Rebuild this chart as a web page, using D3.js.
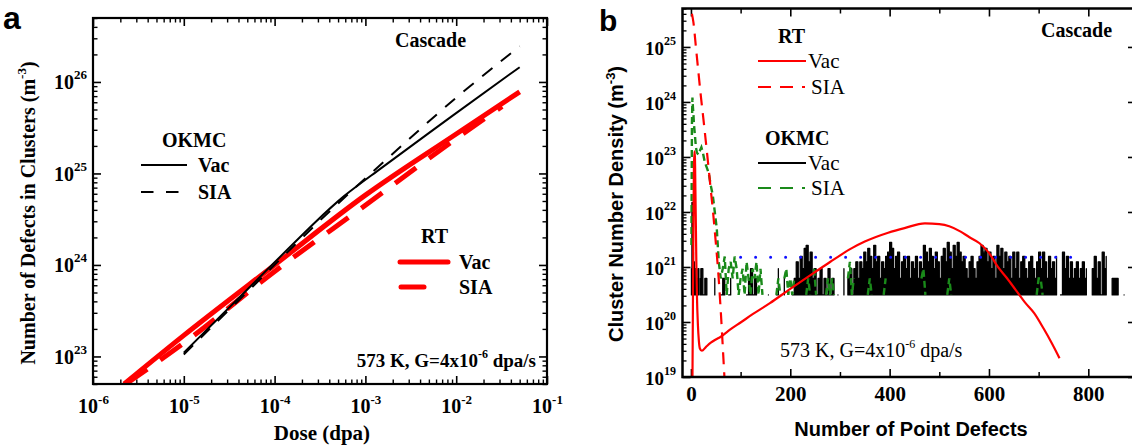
<!DOCTYPE html>
<html><head><meta charset="utf-8">
<script src="https://cdn.jsdelivr.net/npm/d3@7"></script>
<style>body{margin:0;background:#fff}svg{display:block}</style>
</head><body>
<svg id="c" width="1132" height="447"></svg>
<script>
// ---------------- Panel a data (dose in dpa, density in m^-3) ----------------
const rtVacDose  = [2.2e-6, 1e-5, 1e-4, 1e-3, 1e-2, 5e-2];
const rtVacA     = [5e22, 1.7e23, 1.0e24, 5.8e24, 2.7e25, 7.8e25];
const rtSiaDose  = [2.3e-6, 1e-5, 1e-4, 1e-3, 1e-2, 3.2e-2];
const rtSiaA     = [5e22, 1.4e23, 8.5e23, 4.5e24, 2.4e25, 5.4e25];
const okVacDose  = [1e-5, 1e-4, 3e-4, 6e-4, 1e-3, 1e-2, 5e-2];
const okVacA     = [1.1e23, 1.07e24, 3.16e24, 5.9e24, 8.5e24, 4.6e25, 1.45e26];
const okSiaDose  = [1e-5, 1e-4, 3e-4, 1e-3, 3e-3, 1e-2, 5e-2];
const okSiaA     = [1.05e23, 1.0e24, 2.95e24, 8.9e24, 2.35e25, 6.9e25, 2.45e26];
const xTicksA = [1e-6, 1e-5, 1e-4, 1e-3, 1e-2, 1e-1];
const yTicksA = [1e23, 1e24, 1e25, 1e26];

// ---------------- Panel b data (cluster size, density in m^-3) ----------------
const rtVacSize = [3,4,5,6,7,8,9,10,11,12,14,16,18,22,30,40,50,60,80,100,125,159,200,250,280,324,350,397,430,471,500,520,543,560,581,600,618,636,654,672,691,710,726,742];
const rtVacB = [7.9e18,2e20,6.3e21,6.3e22,1.26e23,1e23,2.5e22,5e21,1e21,3.2e20,8.9e19,4.5e19,3.3e19,3.0e19,3.5e19,4.2e19,4.8e19,5.4e19,7.4e19,9.8e19,1.4e20,2.2e20,4e20,8.1e20,1.23e21,2.2e21,2.9e21,4.2e21,5.1e21,6.2e21,6.0e21,5.5e21,4.4e21,3.5e21,2.7e21,1.8e21,1e21,6.3e20,3.8e20,2.3e20,1.45e20,7.6e19,4.2e19,2.2e19];
const rtSiaSize = [2,5,10,15,20,25,30,35,40,45,50,55,60,65,68];
const rtSiaB = [4e25,2.8e25,1e25,3.5e24,1.26e24,5e23,1.9e23,7e22,2.5e22,8.9e21,2.8e21,7.9e20,1.6e20,2.5e19,7.9e18];
// OKMC: density of a single cluster in the simulation box, and cluster counts
const oneCluster = 3.1e20;
const okVacHead = [3,48,20,6,3,4,1,3,2,1,3,1,2,1,3,1,0,0,2];          // sizes 1..19
const okVacTailStart = 20, okVacTailStep = 4;                            // sizes 20,24,...
const okVacTail = [3,1,2,1,0,0,0,2, 0,0,1,2,1,0,1,2,0,0,0,0,0,
 0,0,1,2,3,1,2,1,0,0,0,0,0,1,0,0,0,1,3,0,0,2,0,0,0,
 1,2,4,2,5,3,7,8,4,6,2,3,1,2,3,1,2,1,3,1,2,1,0,1,0,
 0,3,0,2,3,1,3,4,
 2,4,3,6,4,7,5,3,8,4,5,2,4,3,5,6,9,7,3,5,6,2,4,5,3,5,2,4,3,5,2,4,3,8,6,4,7,5,3,6,4,2,5,7,4,9,6,3,8,5,9,6,4,5,3,2,4,5,3,2,4,5,8,6,7,4,6,
 3,5,2,8,5,7,3,6,4,5,2,6,3,6,2,4,5,3,2,4,5,3,2,4,6,3,6,4,2,5,
 3,4,2,5,0,1,6,3,5,2,
 4,2,3,4,2,3,4,2,3,0,
 0,3,5,2,4,1,6,3,5,0,0,2,2,2,2,0,0,1];
const okSiaHeadSize = [1,2,3,4,5,6,8,10,12,15,18,21,24,28,33,36,40,44,48,52];
const okSiaHeadB = [2.5e21,4e23,1.2e24,8e23,6e23,4e23,2.5e23,1.5e23,1.2e23,1.1e23,1.3e23,1.5e23,1.2e23,8e22,6e22,5e22,3e22,2e22,1e22,5e21];
const okSiaTailStart = 56, okSiaTailStep = 4;
const okSiaTail = [4,2,3,5,1,3,4,2,5,3,1,2,3,1,4,2,1,3,2,4,1,3,1,
 0,0,0,0,0,0,
 1,2,1,0,2,3,1,2,1,2,
 0,0,0,0,0,
 1,2,1,0,3,1,
 0,0,0,0,1,2,1,2,1,
 0,0,0,0,0,0,
 2,4,1,2,
 0,0,0,0,0,0,
 1,2,1,
 0,0,0,0,0,
 1,2,
 0,0,0,0,0,0,0,0,0,0,0,0,0,0,0,0,0,
 2,3,1,
 0,0,0,0,0,0,0,0,0,0,
 1,2,1,
 0,0,0,0,0,0,0,0,0,0,0,0,0,0,0,0,0,0,0,0,0,0,0,0,0,0,0,0,0,0,0,0,0,0,0,0,0,0,0,0,0,0,
 1,2,2,1];
const refSize = [100, 785];
const refB = [1.5e21, 1.5e21];
const xTicksB = [0, 200, 400, 600, 800];
const xMinorB = [100, 300, 500, 700];
const yTicksB = [1e19, 1e20, 1e21, 1e22, 1e23, 1e24, 1e25];

// ---------------- drawing ----------------
const serif = "'Liberation Serif','Times New Roman',serif";
const sans = "'Liberation Sans',Arial,sans-serif";
const svg = d3.select('#c');
const defs = svg.append('defs');

function logMinor(lo, hi) {
  const out = [];
  for (let e = Math.floor(Math.log10(lo)); e <= Math.ceil(Math.log10(hi)); e++)
    for (let m = 2; m <= 9; m++) { const v = m * Math.pow(10, e); if (v >= lo * 0.999 && v <= hi * 1.001) out.push(v); }
  return out;
}
function tickOnly(g, gen, values, size, w) {
  g.call(gen.tickValues(values).tickSize(-size).tickFormat(''));
  g.select('.domain').remove();
  g.selectAll('.tick text').remove();
  g.selectAll('.tick line').attr('stroke', '#000').attr('stroke-width', w);
}
function powLabels(g, opts) {
  g.selectAll('.tick text').each(function(d) {
    const t = d3.select(this).text(null)
      .attr('font-family', serif).attr('font-weight', 'bold').attr('font-size', opts.size).attr('fill', '#000');
    if (opts.x !== undefined) t.attr('x', opts.x);
    if (opts.y !== undefined) t.attr('y', opts.y);
    t.attr('dy', opts.dy);
    t.append('tspan').text('10');
    t.append('tspan').attr('dy', opts.supDy).attr('font-size', opts.supSize).text(Math.round(Math.log10(d)));
  });
}
function txt(x, y, s, o = {}) {
  return svg.append('text').attr('x', x).attr('y', y)
    .attr('font-family', o.fam || serif).attr('font-weight', o.w || 'bold')
    .attr('font-size', o.size || 20).attr('text-anchor', o.anchor || 'start').attr('fill', '#000').text(s);
}

// ===== Panel a =====
const A = {l: 93, r: 547, t: 18, b: 384};
const xA = d3.scaleLog().domain([1e-6, 1e-1]).range([A.l, A.r]);
const yA = d3.scaleLog().domain([5e22, 5e26]).range([A.b, A.t]);
defs.append('clipPath').attr('id', 'clipA').append('rect')
  .attr('x', A.l).attr('y', A.t).attr('width', A.r - A.l).attr('height', A.b - A.t);

const gA = svg.append('g');
const xMinA = logMinor(1e-6, 1e-1), yMinA = logMinor(5e22, 5e26);
const gAb = gA.append('g').attr('transform', `translate(0,${A.b})`);
gAb.call(d3.axisBottom(xA).tickValues(xTicksA).tickSize(-8).tickFormat(() => ''));
gAb.select('.domain').remove();
gAb.selectAll('.tick line').attr('stroke-width', 1.6);
powLabels(gAb, {y: 29, dy: null, size: 20, supDy: -9, supSize: 13});
tickOnly(gA.append('g').attr('transform', `translate(0,${A.b})`), d3.axisBottom(xA), xMinA, 4.5, 1.4);
tickOnly(gA.append('g').attr('transform', `translate(0,${A.t})`), d3.axisTop(xA), xTicksA, 8, 1.6);
tickOnly(gA.append('g').attr('transform', `translate(0,${A.t})`), d3.axisTop(xA), xMinA, 4.5, 1.4);
const gAl = gA.append('g').attr('transform', `translate(${A.l},0)`);
gAl.call(d3.axisLeft(yA).tickValues(yTicksA).tickSize(-8).tickPadding(6).tickFormat(() => ''));
gAl.select('.domain').remove();
gAl.selectAll('.tick line').attr('stroke-width', 1.6);
powLabels(gAl, {dy: '0.35em', size: 20, supDy: -10, supSize: 13});
tickOnly(gA.append('g').attr('transform', `translate(${A.l},0)`), d3.axisLeft(yA), yMinA, 4.5, 1.4);
tickOnly(gA.append('g').attr('transform', `translate(${A.r},0)`), d3.axisRight(yA), yTicksA, 8, 1.6);
tickOnly(gA.append('g').attr('transform', `translate(${A.r},0)`), d3.axisRight(yA), yMinA, 4.5, 1.4);

const lineA = d3.line().x(d => xA(d[0])).y(d => yA(d[1])).curve(d3.curveMonotoneX);
const lineA2 = d3.line().x(d => xA(d[0])).y(d => yA(d[1])).curve(d3.curveBasis);
const cA = gA.append('g').attr('clip-path', 'url(#clipA)');
cA.append('path').attr('d', lineA(d3.zip(rtSiaDose, rtSiaA))).attr('fill', 'none')
  .attr('stroke', '#ff0000').attr('stroke-width', 5).attr('stroke-dasharray', '26,16');
cA.append('path').attr('d', lineA(d3.zip(rtVacDose, rtVacA))).attr('fill', 'none')
  .attr('stroke', '#ff0000').attr('stroke-width', 5);
cA.append('path').attr('d', lineA2(d3.zip(okSiaDose, okSiaA))).attr('fill', 'none')
  .attr('stroke', '#000').attr('stroke-width', 2).attr('stroke-dasharray', '13,11');
cA.append('path').attr('d', lineA2(d3.zip(okVacDose, okVacA))).attr('fill', 'none')
  .attr('stroke', '#000').attr('stroke-width', 2);

gA.append('rect').attr('x', A.l).attr('y', A.t).attr('width', A.r - A.l).attr('height', A.b - A.t)
  .attr('fill', 'none').attr('stroke', '#000').attr('stroke-width', 2.2);

txt(3, 29, 'a', {fam: sans, size: 32});
txt(395, 47, 'Cascade');
{
  const t = txt(536, 367, '573 K, G=4x10', {anchor: 'end', size: 19});
  t.append('tspan').attr('dy', -9).attr('font-size', 12).text('-6');
  t.append('tspan').attr('dy', 9).text(' dpa/s');
}
txt(162, 147, 'OKMC');
svg.append('line').attr('x1', 141).attr('x2', 187).attr('y1', 165).attr('y2', 165).attr('stroke', '#000').attr('stroke-width', 2);
txt(198, 172, 'Vac');
svg.append('line').attr('x1', 141).attr('x2', 179).attr('y1', 192).attr('y2', 192).attr('stroke', '#000').attr('stroke-width', 2).attr('stroke-dasharray', '12.5,12.5');
txt(198, 199, 'SIA');
txt(421, 243, 'RT');
svg.append('line').attr('x1', 400).attr('x2', 448).attr('y1', 262).attr('y2', 262).attr('stroke', '#ff0000').attr('stroke-width', 5).attr('stroke-linecap', 'round');
txt(459, 269, 'Vac');
svg.append('line').attr('x1', 401).attr('x2', 424).attr('y1', 287).attr('y2', 287).attr('stroke', '#ff0000').attr('stroke-width', 5).attr('stroke-linecap', 'round');
txt(459, 294, 'SIA');
{
  const t = txt(0, 0, 'Number of Defects in Clusters (m', {anchor: 'middle', size: 20})
    .attr('x', null).attr('y', null).attr('transform', 'translate(35,213) rotate(-90)');
  t.append('tspan').attr('dy', -9).attr('font-size', 13).text('-3');
  t.append('tspan').attr('dy', 9).text(')');
}
txt(322, 440, 'Dose (dpa)', {anchor: 'middle', size: 21});

// ===== Panel b =====
const B = {l: 682.5, r: 1136, t: 8.5, b: 377};
const xB = d3.scaleLinear().domain([-17, 896]).range([B.l, B.r]);
const yB = d3.scaleLog().domain([1e19, 5e25]).range([B.b, B.t]);
defs.append('clipPath').attr('id', 'clipB').append('rect')
  .attr('x', B.l).attr('y', B.t).attr('width', B.r - B.l).attr('height', B.b - B.t);
const gB = svg.append('g');
const yMinB = logMinor(1e19, 5e25);

const gBb = gB.append('g').attr('transform', `translate(0,${B.b})`);
gBb.call(d3.axisBottom(xB).tickValues(xTicksB).tickSize(-8).tickFormat(d3.format('d')));
gBb.select('.domain').remove();
gBb.selectAll('.tick line').attr('stroke-width', 1.6);
gBb.selectAll('.tick text').attr('y', 24).attr('dy', null).attr('font-family', serif)
  .attr('font-weight', 'bold').attr('font-size', 21).attr('fill', '#000');
tickOnly(gB.append('g').attr('transform', `translate(0,${B.b})`), d3.axisBottom(xB), xMinorB, 5, 1.5);
tickOnly(gB.append('g').attr('transform', `translate(0,${B.t})`), d3.axisTop(xB), xTicksB, 8, 1.6);
tickOnly(gB.append('g').attr('transform', `translate(0,${B.t})`), d3.axisTop(xB), xMinorB, 5, 1.5);
const gBl = gB.append('g').attr('transform', `translate(${B.l},0)`);
gBl.call(d3.axisLeft(yB).tickValues(yTicksB).tickSize(-8).tickPadding(6.5).tickFormat(() => ''));
gBl.select('.domain').remove();
gBl.selectAll('.tick line').attr('stroke-width', 1.6);
powLabels(gBl, {dy: '0.4em', size: 19, supDy: -10, supSize: 12});
tickOnly(gB.append('g').attr('transform', `translate(${B.l},0)`), d3.axisLeft(yB), yMinB, 4, 1.3);
tickOnly(gB.append('g').attr('transform', `translate(${B.r},0)`), d3.axisRight(yB), yTicksB, 8, 1.6);

const cB = gB.append('g').attr('clip-path', 'url(#clipB)');
const lineB = d3.line().defined(d => d[1] > 0).x(d => xB(d[0])).y(d => yB(d[1]));
const okVacPts = okVacHead.map((c, i) => [i + 1, c * oneCluster])
  .concat(okVacTail.map((c, i) => [okVacTailStart + i * okVacTailStep, c * oneCluster]));
const areaB = d3.area().defined(d => d[1] > 0).x(d => xB(d[0]))
  .y0(yB(oneCluster)).y1(d => yB(d[1])).curve(d3.curveStepAfter);
cB.append('path').attr('d', areaB(okVacPts)).attr('fill', '#000')
  .attr('stroke', '#000').attr('stroke-width', 1.3).attr('stroke-linejoin', 'round').attr('stroke-linecap', 'round');
const okSiaPts = d3.zip(okSiaHeadSize, okSiaHeadB)
  .concat(okSiaTail.map((c, i) => [okSiaTailStart + i * okSiaTailStep, c * oneCluster]));
cB.append('path').attr('d', lineB.curve(d3.curveLinear)(okSiaPts)).attr('fill', 'none')
  .attr('stroke', '#1a8a1a').attr('stroke-width', 2.4).attr('stroke-dasharray', '7,4');
cB.append('path').attr('d', lineB.curve(d3.curveMonotoneX)(d3.zip(rtSiaSize, rtSiaB))).attr('fill', 'none')
  .attr('stroke', '#ff0000').attr('stroke-width', 2.2).attr('stroke-dasharray', '12,8');
cB.append('path').attr('d', lineB.curve(d3.curveLinear)(d3.zip(refSize, refB))).attr('fill', 'none')
  .attr('stroke', '#1010ff').attr('stroke-width', 3).attr('stroke-linecap', 'round').attr('stroke-dasharray', '0,15');
cB.append('path').attr('d', lineB.curve(d3.curveMonotoneX)(d3.zip(rtVacSize, rtVacB))).attr('fill', 'none')
  .attr('stroke', '#ff0000').attr('stroke-width', 2.2);

gB.append('rect').attr('x', B.l).attr('y', B.t).attr('width', B.r - B.l).attr('height', B.b - B.t)
  .attr('fill', 'none').attr('stroke', '#000').attr('stroke-width', 2.5);

txt(599, 31, 'b', {fam: sans, size: 30});
txt(1041, 37, 'Cascade');
{
  const t = txt(780, 357, '573 K, G=4x10', {w: 'normal', size: 20});
  t.append('tspan').attr('dy', -9).attr('font-size', 12).text('-6');
  t.append('tspan').attr('dy', 9).text(' dpa/s');
}
txt(778, 43, 'RT');
svg.append('line').attr('x1', 758).attr('x2', 806).attr('y1', 61).attr('y2', 61).attr('stroke', '#ff0000').attr('stroke-width', 2.2);
txt(808, 68, 'Vac', {w: 'normal', size: 21});
svg.append('line').attr('x1', 758).attr('x2', 805).attr('y1', 87).attr('y2', 87).attr('stroke', '#ff0000').attr('stroke-width', 2.2).attr('stroke-dasharray', '13,9');
txt(811, 94, 'SIA', {w: 'normal', size: 21});
txt(765, 145, 'OKMC');
svg.append('line').attr('x1', 758).attr('x2', 806).attr('y1', 163).attr('y2', 163).attr('stroke', '#000').attr('stroke-width', 2.2);
txt(808, 170, 'Vac', {w: 'normal', size: 21});
svg.append('line').attr('x1', 758).attr('x2', 805).attr('y1', 188).attr('y2', 188).attr('stroke', '#1a8a1a').attr('stroke-width', 2.2).attr('stroke-dasharray', '13,9');
txt(811, 195, 'SIA', {w: 'normal', size: 21});
{
  const t = txt(0, 0, 'Cluster Number Density (m', {fam: sans, anchor: 'middle', size: 20})
    .attr('x', null).attr('y', null).attr('transform', 'translate(623,204) rotate(-90)');
  t.append('tspan').attr('dy', -8).attr('font-size', 13).text('-3');
  t.append('tspan').attr('dy', 8).text(')');
}
txt(911, 436, 'Number of Point Defects', {fam: sans, anchor: 'middle', size: 20});
</script>
</body></html>
